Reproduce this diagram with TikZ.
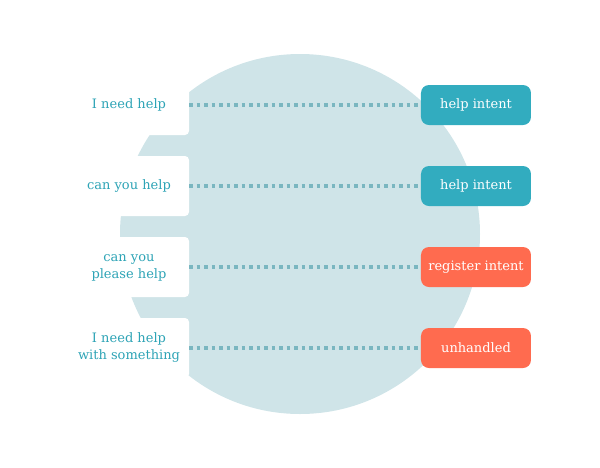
\documentclass[tikz,border=0pt]{standalone}
\usepackage{fontspec}
\setmainfont{DejaVu Serif}
\usepackage{tikz}
\usetikzlibrary{matrix}
\definecolor{bubble}{HTML}{CFE4E8}
\definecolor{dotline}{HTML}{7AB6C0}
\definecolor{intentteal}{HTML}{32ACBF}
\definecolor{intentcoral}{HTML}{FF6B4F}
\definecolor{saytext}{HTML}{2EA4B6}
\newcommand{\saylines}[2]{\begin{tabular}{@{}c@{}}#1\\#2\end{tabular}}
\tikzset{
	utterance/.style={fill=white, text=saytext, rounded corners=4pt,
		minimum width=120pt, minimum height=60pt, inner sep=0pt},
	intent/.style={fill=intentteal, text=white, rounded corners=8pt,
		minimum width=110pt, minimum height=40pt, inner sep=1pt},
	unmatched/.style={fill=intentcoral},
}

\begin{document}
\begin{tikzpicture}[x=1pt,y=1pt]
	\useasboundingbox (0,0) rectangle (600,-467);
	\fill[bubble] (300,-234) circle (180);
	%\matrix(m)[matrix of nodes, row sep=2em, column sep=8em]
	\matrix(m)[matrix of nodes, row sep=21pt, column sep=232pt, inner sep=0pt,
		nodes={anchor=center, font=\fontsize{13}{17}\selectfont},
		column 1/.style={nodes={utterance}}, column 2/.style={nodes={intent}}]
		at (300,-226.5)
	{
		I need help   &  help intent \\
		can you help  &  help intent \\
		\saylines{can you}{please help}  &  |[unmatched]| register intent \\
		\saylines{I need help}{with something}  &  |[unmatched]| unhandled \\
	};
	%\path[dotted]
	\path[dotline, line width=4pt, dash pattern=on 3.5pt off 4pt]
	(m-1-1) edge (m-1-2)
	(m-2-1) edge (m-2-2)
	(m-3-1) edge (m-3-2)
	(m-4-1) edge (m-4-2)
	;
\end{tikzpicture}
\end{document}
